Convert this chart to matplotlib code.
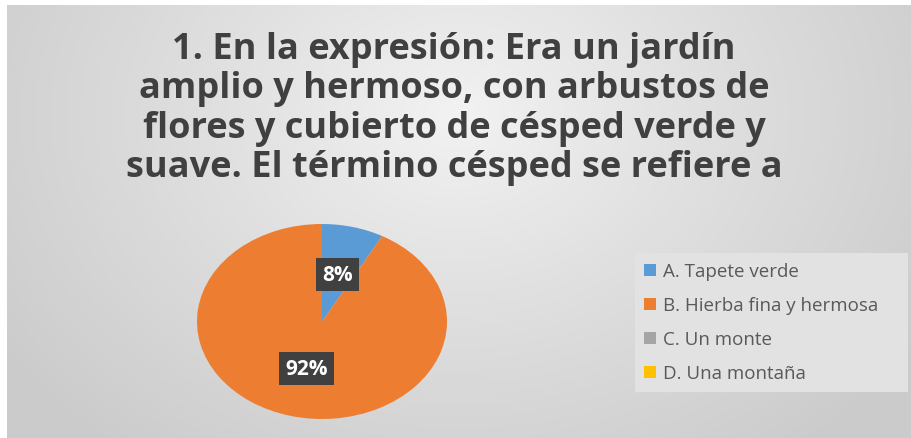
import numpy as np
import matplotlib
matplotlib.use("Agg")
import matplotlib.pyplot as plt
from matplotlib.patches import Patch

title = ("1. En la expresión: Era un jardín\n"
         "amplio y hermoso, con arbustos de\n"
         "flores y cubierto de césped verde y\n"
         "suave. El término césped se refiere a")
categories = ["A. Tapete verde", "B. Hierba fina y hermosa", "C. Un monte", "D. Una montaña"]
values = [8, 92, 0, 0]
colors = ["#5B9BD5", "#ED7D31", "#A5A5A5", "#FFC000"]

W, H = 911, 439
fig = plt.figure(figsize=(W / 100, H / 100), dpi=100)
fig.patch.set_facecolor("white")

# background panel with radial gradient
bg = fig.add_axes([7 / W, 0, 1 - 7 / W, 1 - 6 / H])
bg.set_axis_off()
yy, xx = np.mgrid[0:433, 0:904]
r = np.sqrt(((xx - 450) / 1.0) ** 2 + ((yy - 110) * 1.3) ** 2)
v = 243 - (243 - 203) * np.clip(r / 560, 0, 1) ** 0.9
img = np.dstack([v, v, v]) / 255.0
bg.imshow(img, aspect="auto", extent=[0, 1, 0, 1], origin="upper")
bg.set_xlim(0, 1)
bg.set_ylim(0, 1)

# title
fig.text(454 / W, 1 - 109 / H, title, ha="center", va="center",
         fontsize=26, fontweight="bold", family="Open Sans",
         color="#404040", linespacing=1.12)

# pie
pax = fig.add_axes([197 / W, 1 - 420 / H, 250 / W, 195 / H])
pax.set_axis_off()
wedges, texts, autotexts = pax.pie(
    values, colors=colors, startangle=90, counterclock=False,
    autopct=lambda p: f"{p:.0f}%" if p > 0 else "", pctdistance=0.5,
    wedgeprops=dict(linewidth=0),
    textprops=dict(color="white", fontsize=15, fontweight="bold", family="Open Sans"))
pax.set_aspect("auto")
pax.set_xlim(-1, 1)
pax.set_ylim(-1, 1)
for t in autotexts:
    if t.get_text():
        t.set_bbox(dict(boxstyle="square,pad=0.3", facecolor="#404040", edgecolor="none"))

# legend
handles = [Patch(facecolor=c, edgecolor="none") for c in colors]
leg = fig.legend(handles, categories, loc="upper left", mode="expand",
                 bbox_to_anchor=(635 / W, 1 - 391 / H, 273 / W, 137 / H),
                 frameon=True, fancybox=False,
                 prop=dict(family="Open Sans", size=13.5),
                 handlelength=0.6, handleheight=0.6, handletextpad=0.4,
                 labelspacing=0.85, borderpad=0.5, borderaxespad=0)
leg.get_frame().set_facecolor("#e2e2e2")
leg.get_frame().set_edgecolor("none")
leg.get_frame().set_alpha(1)
for t in leg.get_texts():
    t.set_color("#595959")

fig.savefig("out.png", dpi=100, facecolor=fig.get_facecolor())
